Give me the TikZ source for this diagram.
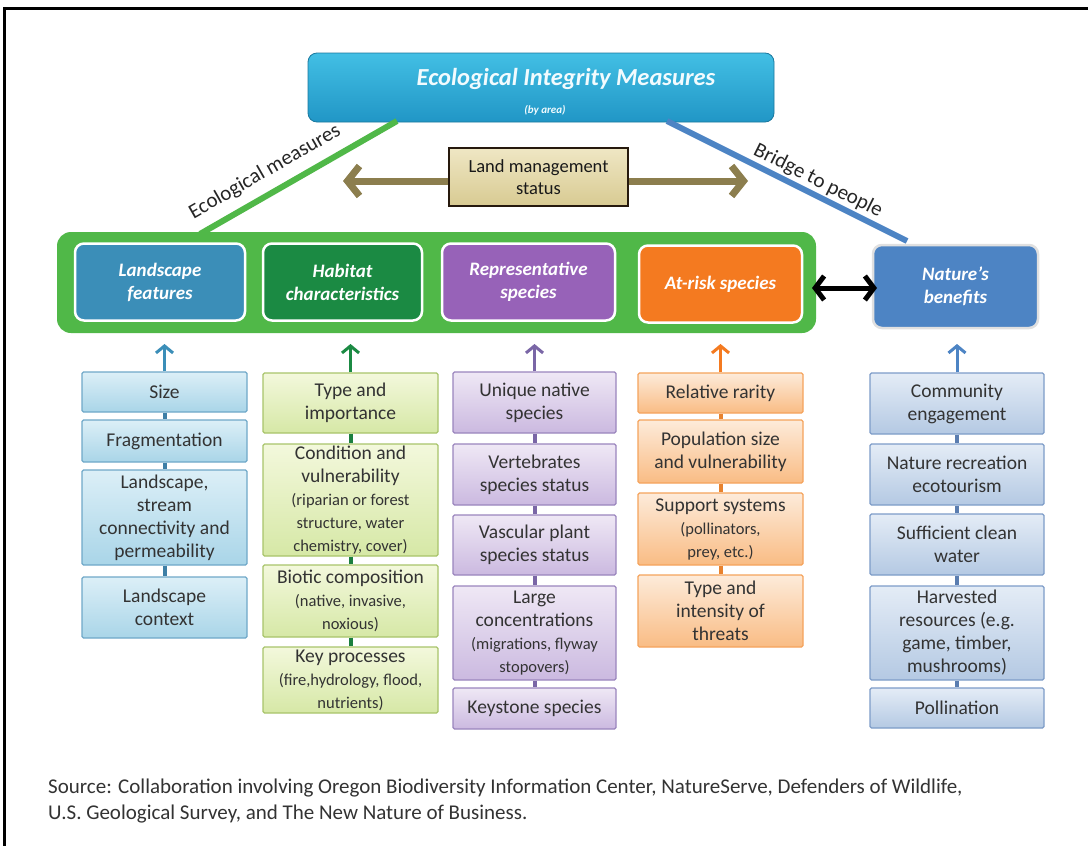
\documentclass[tikz,border=0pt]{standalone}
\usepackage{fontspec}
\setmainfont{Carlito}
\usetikzlibrary{arrows.meta}
\definecolor{contg}{HTML}{50B848}
\definecolor{landc}{HTML}{3B8EB8}
\definecolor{habc}{HTML}{1B8A43}
\definecolor{repc}{HTML}{9762B8}
\definecolor{riskc}{HTML}{F47A20}
\definecolor{natc}{HTML}{4D84C4}
\definecolor{titletop}{HTML}{42BFE4}
\definecolor{titlebot}{HTML}{2196C6}
\definecolor{olivec}{HTML}{8C7E4E}
\definecolor{lmstop}{HTML}{EFE7C4}
\definecolor{lmsbot}{HTML}{D8CA92}
\definecolor{cAt}{HTML}{DCEFF7}\definecolor{cAb}{HTML}{A9D5E8}\definecolor{cAd}{HTML}{6FA8C8}\definecolor{cAl}{HTML}{3E7FA6}
\definecolor{cBt}{HTML}{F3F8DC}\definecolor{cBb}{HTML}{D6E8A6}\definecolor{cBd}{HTML}{A8C46A}\definecolor{cBl}{HTML}{1B7F3F}
\definecolor{cCt}{HTML}{EFE8F5}\definecolor{cCb}{HTML}{CBB9E0}\definecolor{cCd}{HTML}{9A85BD}\definecolor{cCl}{HTML}{7A66A6}
\definecolor{cDt}{HTML}{FDEBDA}\definecolor{cDb}{HTML}{F9BC84}\definecolor{cDd}{HTML}{F5A35C}\definecolor{cDl}{HTML}{E8822E}
\definecolor{cEt}{HTML}{E4ECF6}\definecolor{cEb}{HTML}{B4C9E3}\definecolor{cEd}{HTML}{7D9CC8}\definecolor{cEl}{HTML}{5A7DB0}
\definecolor{txtc}{HTML}{333333}
\newcommand\psz{\fontsize{16.5}{20}\selectfont}
\begin{document}
\begin{tikzpicture}[x=1pt,y=-1pt,
  cat/.style={draw=white, line width=2.5pt, rounded corners=9pt, text=white,
    font=\fontsize{19}{23}\selectfont\bfseries\itshape, align=center, inner sep=0pt, minimum height=77pt},
  colbox/.style={rounded corners=1.5pt, line width=1.2pt, align=center, inner sep=0pt,
    text=txtc, font=\fontsize{19.5}{23}\selectfont},
  boxA/.style={colbox, draw=cAd, top color=cAt, bottom color=cAb, minimum width=165pt},
  boxB/.style={colbox, draw=cBd, top color=cBt, bottom color=cBb, minimum width=175pt},
  boxC/.style={colbox, draw=cCd, top color=cCt, bottom color=cCb, minimum width=163pt},
  boxD/.style={colbox, draw=cDd, top color=cDt, bottom color=cDb, minimum width=165pt},
  boxE/.style={colbox, draw=cEd, top color=cEt, bottom color=cEb, minimum width=174pt},
  linkline/.style={line width=4pt},
  uparrow/.style={line width=3pt, -{Straight Barb[length=7pt,width=17pt]}},
  olivearrow/.style={draw=olivec, line width=7pt, -{Straight Barb[length=12pt,width=30pt]}},
  blackarrow/.style={draw=black, line width=5pt, {Straight Barb[length=9pt,width=24pt]}-{Straight Barb[length=9pt,width=24pt]}},
  slabel/.style={font=\fontsize{21}{24}\selectfont, text=black!85, inner sep=0pt},
  titletext/.style={text=white!95!cyan, inner sep=0pt, font=\bfseries\itshape}
]
\useasboundingbox (0,0) rectangle (1088,846);
\fill[white] (0,0) rectangle (1088,846);
% frame
\draw[line width=3pt] (4,846) -- (4,8.5) -- (1088,8.5);

% title
\node[rounded corners=9pt, top color=titletop, bottom color=titlebot, draw=titlebot!80!black, line width=0.8pt,
  minimum width=466pt, minimum height=69pt, inner sep=0pt] (title) at (541,87.5) {};
\node[titletext, font=\fontsize{24.5}{28}\selectfont\bfseries\itshape] (titlemain) at (566,79) {Ecological Integrity Measures};
\node[titletext, font=\fontsize{11}{13}\selectfont\bfseries\itshape] (titlesub) at (545,110) {(by area)};

% green container
\node[fill=contg, rounded corners=14pt, minimum width=759pt, minimum height=101pt, inner sep=0pt] (cont) at (436.5,282.5) {};

% connectors from title
\coordinate (gtop) at (397,121);
\coordinate (gbot) at (200,234);
\coordinate (btop) at (667,121);
\coordinate (bbot) at (907,241);
\draw[contg, line width=6pt] (gtop) -- (gbot);
\draw[natc, line width=6pt] (btop) -- (bbot);
\node[slabel, rotate=29.8] (ecolab) at (265,172) {Ecological measures};
\node[slabel, rotate=-26.5] (bridgelab) at (818,181) {Bridge to people};

% land management
\node[draw=black!80!brown, line width=1.8pt, top color=lmstop, bottom color=lmsbot, minimum width=179pt, minimum height=58pt,
  inner sep=0pt, align=center, font=\fontsize{18.5}{22}\selectfont, text=black!90] (lms) at (538.5,177) {Land management\\status};
\coordinate (lmsL) at (343,181);
\coordinate (lmsR) at (748,181);
\draw[olivearrow] (lms.west |- lmsL) -- (lmsL);
\draw[olivearrow] (lms.east |- lmsR) -- (lmsR);

% category boxes
\node[cat, fill=landc, minimum width=170pt] (land) at (160,282) {Landscape\\features};
\node[cat, fill=habc, minimum width=159pt] (hab) at (342.5,282) {Habitat\\characteristics};
\node[cat, fill=repc, minimum width=173pt] (rep) at (528.5,282) {Representative\\species};
\node[cat, fill=riskc, minimum width=163pt] (risk) at (720.5,284) {At-risk species};
\node[cat, draw=black!12, fill=natc, minimum width=165pt, minimum height=83pt] (nat) at (955.5,286.5) {Nature’s\\benefits};

\coordinate (bkL) at (812,288);
\coordinate (bkR) at (877,288);
\draw[blackarrow] (bkL) -- (bkR);

% column 1
\node[boxA, minimum height=40pt] (a1) at (164.5,392) {Size};
\node[boxA, minimum height=42pt] (a2) at (164.5,441) {Fragmentation};
\node[boxA, minimum height=95pt] (a3) at (164.5,517.5) {Landscape,\\stream\\connectivity and\\permeability};
\node[boxA, minimum height=61pt] (a4) at (164.5,607.5) {Landscape\\context};
% column 2
\node[boxB, minimum height=60pt] (b1) at (350.5,403) {Type and\\importance};
\node[boxB, minimum height=112pt] (b2) at (350.5,500) {Condition and\\vulnerability\\\psz(riparian or forest\\\psz structure, water\\\psz chemistry, cover)};
\node[boxB, minimum height=72pt] (b3) at (350.5,601) {Biotic composition\\\psz(native, invasive,\\\psz noxious)};
\node[boxB, minimum height=66pt] (b4) at (350.5,680) {Key processes\\\psz(fire,hydrology, flood,\\\psz nutrients)};
% column 3
\node[boxC, minimum height=61pt] (c1) at (534.5,402.5) {Unique native\\species};
\node[boxC, minimum height=61pt] (c2) at (534.5,474.5) {Vertebrates\\species status};
\node[boxC, minimum height=60pt] (c3) at (534.5,545) {Vascular plant\\species status};
\node[boxC, minimum height=94pt] (c4) at (534.5,633) {Large\\concentrations\\\psz(migrations, flyway\\\psz stopovers)};
\node[boxC, minimum height=41pt] (c5) at (534.5,708.5) {Keystone species};
% column 4
\node[boxD, minimum height=40pt] (d1) at (720.5,393) {Relative rarity};
\node[boxD, minimum height=63pt] (d2) at (720.5,451.5) {Population size\\and vulnerability};
\node[boxD, minimum height=72pt] (d3) at (720.5,529) {Support systems\\\psz(pollinators,\\\psz prey, etc.)};
\node[boxD, minimum height=72pt] (d4) at (720.5,611) {Type and\\intensity of\\threats};
% column 5
\node[boxE, minimum height=61pt] (e1) at (957,403.5) {Community\\engagement};
\node[boxE, minimum height=61pt] (e2) at (957,474.5) {Nature recreation\\ecotourism};
\node[boxE, minimum height=61pt] (e3) at (957,544.5) {Sufficient clean\\water};
\node[boxE, minimum height=94pt] (e4) at (957,633) {Harvested\\resources (e.g.\\game, timber,\\mushrooms)};
\node[boxE, minimum height=40pt] (e5) at (957,708) {Pollination};

% column links
\draw[linkline, cAl] (a1) -- (a2) (a2) -- (a3) (a3) -- (a4);
\draw[linkline, cBl] (b1) -- (b2) (b2) -- (b3) (b3) -- (b4);
\draw[linkline, cCl] (c1) -- (c2) (c2) -- (c3) (c3) -- (c4) (c4) -- (c5);
\draw[linkline, cDl] (d1) -- (d2) (d2) -- (d3) (d3) -- (d4);
\draw[linkline, cEl] (e1) -- (e2) (e2) -- (e3) (e3) -- (e4) (e4) -- (e5);

% up arrows
\coordinate (ta) at (164.5,344);
\coordinate (tb) at (350.5,344);
\coordinate (tc) at (534.5,344);
\coordinate (td) at (720.5,344);
\coordinate (te) at (957,344);
\draw[uparrow, landc] (a1.north) -- (ta);
\draw[uparrow, habc] (b1.north) -- (tb);
\draw[uparrow, cCl] (c1.north) -- (tc);
\draw[uparrow, riskc] (d1.north) -- (td);
\draw[uparrow, natc] (e1.north) -- (te);

% source
\node[anchor=west, inner sep=0pt, font=\fontsize{21}{25}\selectfont, text=txtc] (src1) at (48,788)
  {Source: Collaboration involving Oregon Biodiversity Information Center, NatureServe, Defenders of Wildlife,};
\node[anchor=west, inner sep=0pt, font=\fontsize{21}{25}\selectfont, text=txtc] (src2) at (48,814)
  {U.S. Geological Survey, and The New Nature of Business.};
\end{tikzpicture}
\end{document}
